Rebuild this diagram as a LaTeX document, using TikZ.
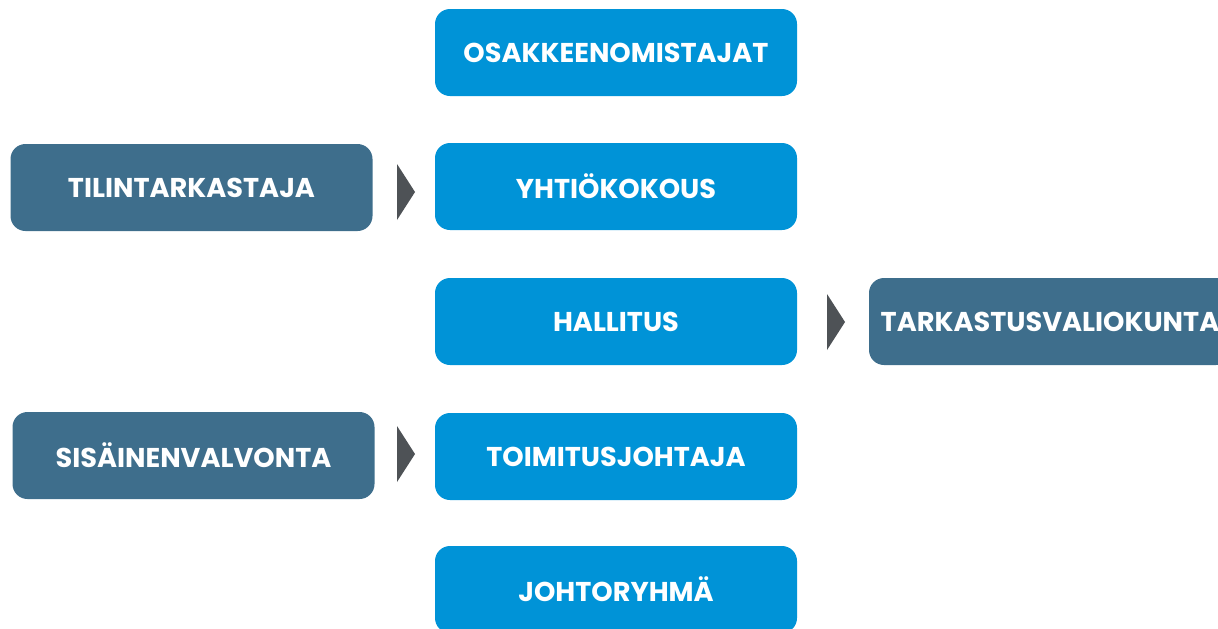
\documentclass[tikz,border=0pt]{standalone}
\usepackage{fontspec}
\setmainfont{Poppins}[UprightFont=* Bold, BoldFont=* Bold]
\usetikzlibrary{positioning}
\definecolor{boxblue}{HTML}{0093D7}
\definecolor{boxslate}{HTML}{3E6E8C}
\definecolor{trigrey}{HTML}{4E5256}
\tikzset{
  base/.style={rounded corners=7.5pt, minimum width=181pt, minimum height=43.5pt, inner sep=0pt,
     text=white, font=\fontsize{13.6}{16}\selectfont\bfseries},
  bluebox/.style={base, fill=boxblue},
  slatebox/.style={base, fill=boxslate},
  tri/.style={fill=trigrey}
}
\begin{document}
\begin{tikzpicture}[x=0.5pt,y=-0.5pt]
\useasboundingbox (0,0) rectangle (1218,628);
\node[bluebox] (osak) at (616,52.5) {OSAKKEENOMISTAJAT};
\node[bluebox] (yht) at (616,186.5) {YHTIÖKOKOUS};
\node[bluebox] (hall) at (616,321.5) {HALLITUS};
\node[bluebox] (toim) at (616,456.5) {TOIMITUSJOHTAJA};
\node[bluebox] (joht) at (616,589.5) {JOHTORYHMÄ};
\node[slatebox] (tilin) at (191.5,187.5) {TILINTARKASTAJA};
\node[slatebox] (sisa) at (193.5,455.5) {SISÄINENVALVONTA};
\node[slatebox] (tark) at (1050,321.5) {TARKASTUSVALIOKUNTA};
% triangles
\coordinate (t1) at (397,164);
\coordinate (t2) at (827,294);
\coordinate (t3) at (397,426);
\foreach \c in {t1,t2,t3}{
  \fill[tri] (\c) -- ++(18,28) -- ++(-18,28) -- cycle;
}
\end{tikzpicture}
\end{document}
